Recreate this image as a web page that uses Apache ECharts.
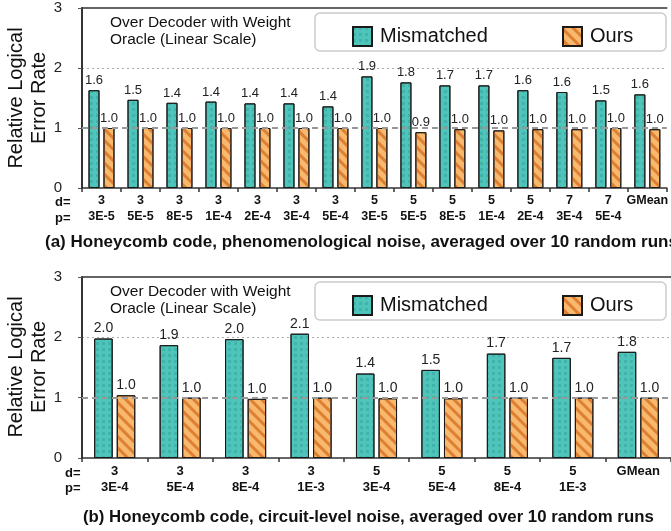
<!DOCTYPE html>
<html>
<head>
<meta charset="utf-8">
<script src="https://cdn.jsdelivr.net/npm/echarts@6/dist/echarts.min.js"></script>
<style>html,body{margin:0;padding:0;background:#fff;}#c{width:671px;height:531px;}</style>
</head>
<body>
<div id="c"></div>
<script>
// ---- data ----
const catTopD = ['3','3','3','3','3','3','3','5','5','5','5','5','7','7','GMean'];
const catTopP = ['3E-5','5E-5','8E-5','1E-4','2E-4','3E-4','5E-4','3E-5','5E-5','8E-5','1E-4','2E-4','3E-4','5E-4',''];
const mismatchedTop = [1.63,1.47,1.42,1.44,1.41,1.41,1.36,1.86,1.76,1.71,1.71,1.63,1.60,1.46,1.56];
const oursTop = [1.0,1.0,1.0,1.0,1.0,1.0,1.0,1.0,0.93,0.98,0.96,0.98,0.98,1.0,0.98];

const catBotD = ['3','3','3','3','5','5','5','5','GMean'];
const catBotP = ['3E-4','5E-4','8E-4','1E-3','3E-4','5E-4','8E-4','1E-3',''];
const mismatchedBot = [1.98,1.87,1.97,2.06,1.40,1.46,1.73,1.66,1.76];
const oursBot = [1.04,1.0,0.98,1.0,0.99,0.99,1.0,1.0,1.0];

const yTicks = [0,1,2,3];
const seriesNames = ['Mismatched','Ours'];
const subtitleA = '(a) Honeycomb code, phenomenological noise, averaged over 10 random runs';
const subtitleB = '(b) Honeycomb code, circuit-level noise, averaged over 10 random runs';
const noteText = 'Over Decoder with Weight\nOracle (Linear Scale)';
const yTitle = 'Relative Logical\nError Rate';

// ---- build ----
const FF = '"Liberation Sans", Arial, sans-serif';
const catsTop = catTopD.map((d,i)=> d + (catTopP[i] ? '\n' + catTopP[i] : ''));
const catsBot = catBotD.map((d,i)=> d + (catBotP[i] ? '\n' + catBotP[i] : ''));

const tealStyle = {
  color: '#4ec4bb', borderColor: '#1a1a1a', borderWidth: 1,
  decal: { symbol: 'rect', symbolSize: 1, dashArrayX: [3,3], dashArrayY: [3,3], color: 'rgba(40,150,140,0.35)' }
};
const orangeStyle = {
  color: '#f8b86e', borderColor: '#1a1a1a', borderWidth: 1,
  decal: { symbol: 'rect', symbolSize: 1, dashArrayX: [1,0], dashArrayY: [3,5], rotation: Math.PI/4, color: 'rgba(214,110,30,0.75)' }
};

function xAxes(grid, cats, fs, lh) {
  return [
    { gridIndex: grid, type: 'category', data: cats,
      axisLine: { show: true, lineStyle: { color: '#333', width: 1.5 } },
      axisTick: { show: true, length: 4, lineStyle: { color: '#333', width: 1.5 } },
      axisLabel: { interval: 0, fontFamily: FF, fontSize: fs, fontWeight: 'bold', color: '#111', lineHeight: lh, margin: 5 } },
    { gridIndex: grid, type: 'category', data: cats, position: 'top',
      axisLine: { show: true, lineStyle: { color: '#333', width: 1.5 } },
      axisTick: { show: false }, axisLabel: { show: false } }
  ];
}
function yAxis(grid) {
  return { gridIndex: grid, type: 'value', min: yTicks[0], max: yTicks[yTicks.length-1], interval: 1,
    axisLine: { show: true, lineStyle: { color: '#333', width: 2 } },
    axisTick: { show: true, length: 4, lineStyle: { color: '#555' } },
    splitLine: { show: true, lineStyle: { type: [2,3], width: 1, color: ['rgba(0,0,0,0)','rgba(0,0,0,0)','#aaa','rgba(0,0,0,0)'] } },
    axisLabel: { fontFamily: FF, fontSize: 15, color: '#222', margin: 20 } };
}
function barSeries(name, data, grid, xi, style, bw, gap, fs, extra) {
  const s = { name, type: 'bar', data, xAxisIndex: xi, yAxisIndex: grid,
    barWidth: bw, barGap: gap, itemStyle: style,
    label: { show: true, position: 'top', distance: 3, fontFamily: FF, fontSize: fs, color: '#222',
      formatter: p => p.value.toFixed(1) } };
  return Object.assign(s, extra || {});
}
const refLine = { markLine: { silent: true, symbol: 'none', label: { show: false },
  lineStyle: { type: [6,4], color: '#999', width: 2 }, data: [{ yAxis: 1 }] }, z: 3 };

function legendItem(name, left, top) {
  return { left, top, data: [name], icon: 'rect', itemWidth: 19, itemHeight: 19, selectedMode: false,
    textStyle: { fontFamily: FF, fontSize: 20, color: '#111', padding: [0,0,0,3] } };
}
function text(t, x, y, font, align, extra) {
  return Object.assign({ type: 'text', x, y, style: { text: t, font, fill: '#111', align: align || 'left', verticalAlign: 'middle', lineHeight: 17 } }, extra || {});
}

const option = {
  animation: false,
  grid: [
    { left: 82, top: 8, width: 590, height: 180 },
    { left: 82, top: 277, width: 590, height: 181 }
  ],
  xAxis: [...xAxes(0, catsTop, 12.5, 16), ...xAxes(1, catsBot, 13, 16)],
  yAxis: [yAxis(0), yAxis(1)],
  legend: [
    legendItem(seriesNames[0], 347, 21), legendItem(seriesNames[1], 557, 21),
    legendItem(seriesNames[0], 347, 290), legendItem(seriesNames[1], 557, 290)
  ],
  series: [
    barSeries(seriesNames[0], mismatchedTop, 0, 0, tealStyle, 11, '36%', 13),
    barSeries(seriesNames[1], oursTop, 0, 0, orangeStyle, 11, '36%', 13, refLine),
    barSeries(seriesNames[0], mismatchedBot, 1, 2, tealStyle, 18.5, '22%', 14),
    barSeries(seriesNames[1], oursBot, 1, 2, orangeStyle, 18.5, '22%', 14, refLine)
  ],
  graphic: [
    { type: 'rect', shape: { x: 315, y: 13, width: 351, height: 38, r: 5 }, style: { fill: '#fff', stroke: '#ccc', lineWidth: 1.5 }, z: 1 },
    { type: 'rect', shape: { x: 315, y: 282, width: 351, height: 38, r: 5 }, style: { fill: '#fff', stroke: '#ccc', lineWidth: 1.5 }, z: 1 },
    text(noteText, 110, 31, '15.5px ' + FF, 'left'),
    text(noteText, 110, 300, '15.5px ' + FF, 'left'),
    Object.assign(text(yTitle, 28, 98, '20px ' + FF, 'center'), { rotation: Math.PI/2 }),
    Object.assign(text(yTitle, 28, 367, '20px ' + FF, 'center'), { rotation: Math.PI/2 }),
    text('d=', 55, 202, 'bold 13px ' + FF, 'left'),
    text('p=', 55, 218, 'bold 13px ' + FF, 'left'),
    text('d=', 65, 473, 'bold 13px ' + FF, 'left'),
    text('p=', 65, 488, 'bold 13px ' + FF, 'left'),
    text(subtitleA, 45, 242, 'bold 17px ' + FF, 'left'),
    text(subtitleB, 83, 517, 'bold 16.8px ' + FF, 'left')
  ]
};
option.graphic.forEach(g => { if (g.type === 'text') g.style.lineHeight = g.style.font.indexOf('20px') >= 0 ? 23 : 17; });

const chart = echarts.init(document.getElementById('c'), null, { renderer: 'canvas' });
chart.setOption(option);
</script>
</body>
</html>
